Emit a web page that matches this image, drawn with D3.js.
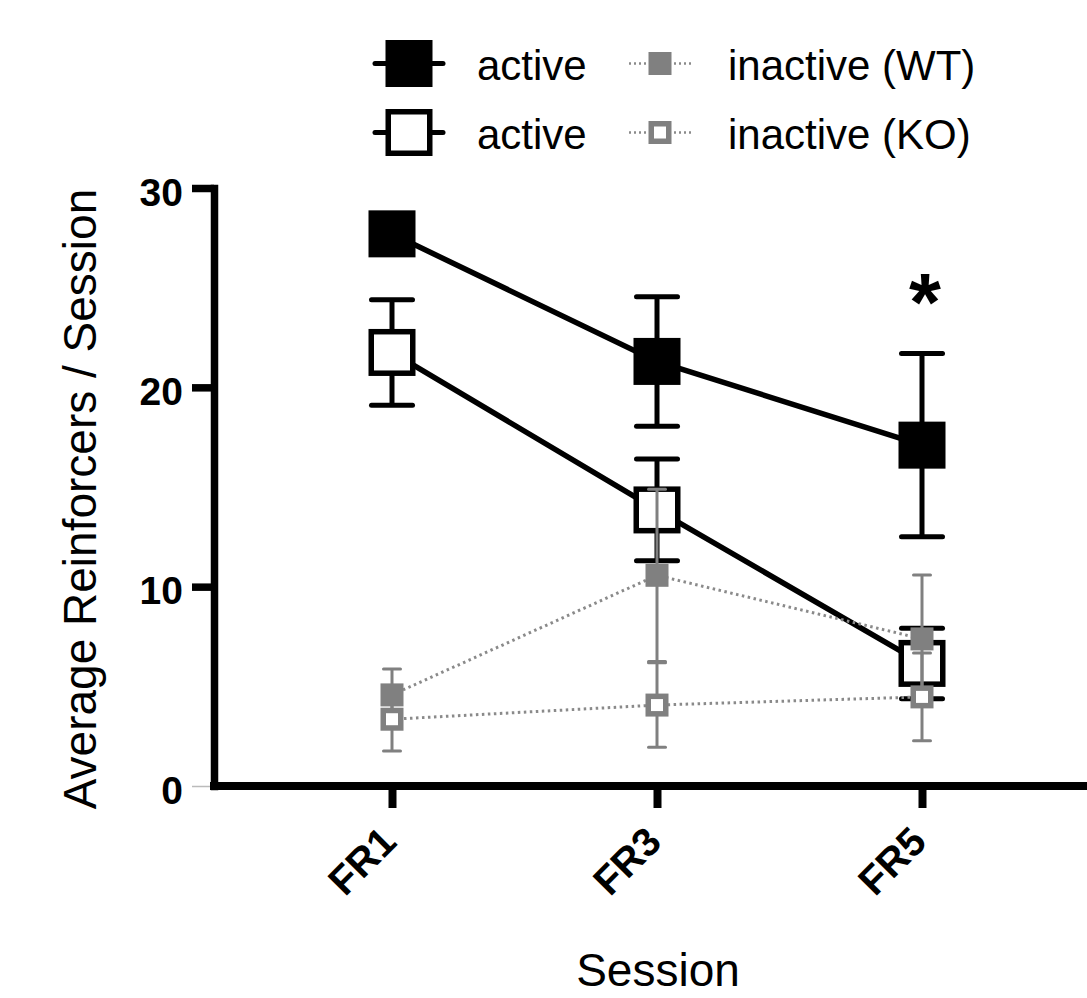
<!DOCTYPE html>
<html><head><meta charset="utf-8">
<script src="https://cdn.jsdelivr.net/npm/d3@7"></script>
<style>
html,body{margin:0;padding:0;background:#fff;}
svg text{font-family:"Liberation Sans",Arial,Helvetica,sans-serif;}
</style></head>
<body><svg id="c" width="1087" height="998"></svg>
<script>
const sessions = ["FR1", "FR3", "FR5"];
const activeWT = [27.7, 21.3, 17.1];
const activeWTSem = [1.0, 3.25, 4.6];
const activeKO = [21.75, 13.85, 6.15];
const activeKOSem = [2.65, 2.55, 1.77];
const inactiveWT = [4.57, 10.57, 7.38];
const inactiveWTSem = [1.3, 4.32, 3.2];
const inactiveKO = [3.35, 4.06, 4.47];
const inactiveKOSem = [1.6, 2.12, 2.2];
const yTicks = [0, 10, 20, 30];
const legendLabels = ["active", "active", "inactive (WT)", "inactive (KO)"];
const yTitle = "Average Reinforcers / Session";
const xTitle = "Session";
const sigMarks = ["", "", "*"];

const W = 1087, H = 998;
const axisX = 214, axisY = 786;
const svg = d3.select("#c");
const x = d3.scalePoint().domain(sessions).range([392, 922]);
const y = d3.scaleLinear().domain([0, 30]).range([786, 188]);
const GRAY = "#808080";

// Y axis
const ya = svg.append("g").attr("transform", `translate(${axisX},0)`)
  .call(d3.axisLeft(y).tickValues(yTicks).tickSize(22).tickSizeOuter(0).tickPadding(9));
ya.select(".domain").attr("stroke", "#000").attr("stroke-width", 7.5).attr("stroke-linecap", "square");
ya.selectAll(".tick line").attr("stroke", "#000").attr("stroke-width", 7.5);
ya.selectAll(".tick").filter(d => d === 0).select("line").attr("stroke", "#bbb").attr("stroke-width", 1.5);
ya.selectAll(".tick text").attr("font-size", 39).attr("font-weight", "bold").attr("fill", "#000")
  .attr("dy", "0.44em").attr("font-family", "Liberation Sans, Arial, sans-serif");

// X axis
const xa = svg.append("g").attr("transform", `translate(0,${axisY})`)
  .call(d3.axisBottom(x).tickSize(22).tickSizeOuter(0));
xa.select(".domain").remove();
xa.append("line").attr("x1", axisX - 4).attr("x2", W + 5).attr("y1", 0).attr("y2", 0)
  .attr("stroke", "#000").attr("stroke-width", 8);
xa.selectAll(".tick line").attr("stroke", "#000").attr("stroke-width", 8);
xa.selectAll(".tick text").attr("font-size", 40).attr("font-weight", "bold").attr("fill", "#000")
  .attr("font-family", "Liberation Sans, Arial, sans-serif")
  .attr("text-anchor", "end").attr("dy", 0).attr("y", 0)
  .attr("transform", "translate(6,58) rotate(-45)");

// Axis titles
svg.append("text").attr("transform", `translate(96,${(188 + 810) / 2}) rotate(-90)`)
  .attr("text-anchor", "middle").attr("font-size", 46).text(yTitle);
svg.append("text").attr("x", 658).attr("y", 986).attr("text-anchor", "middle")
  .attr("font-size", 46).text(xTitle);

const series = [
  {v: activeWT, s: activeWTSem, color: "#000", fill: "#000", size: 47, sw: 0, lw: 5.5, dash: null, capW: 46, capSw: 5, stemSw: 5},
  {v: activeKO, s: activeKOSem, color: "#000", fill: "#fff", size: 47, sw: 5.5, lw: 5.5, dash: null, capW: 46, capSw: 5, stemSw: 5},
  {v: inactiveWT, s: inactiveWTSem, color: GRAY, fill: GRAY, size: 23, sw: 0, lw: 3, dash: "2.5 3.5", capW: 20, capSw: 3, stemSw: 3},
  {v: inactiveKO, s: inactiveKOSem, color: GRAY, fill: "#fff", size: 23, sw: 5.5, lw: 3, dash: "2.5 3.5", capW: 20, capSw: 3, stemSw: 3}
];

const line = d3.line().x((d, i) => x(sessions[i])).y(d => y(d));

series.forEach(se => {
  const g = svg.append("g");
  g.append("path").attr("d", line(se.v)).attr("fill", "none")
    .attr("stroke", se.dash ? "#8a8a8a" : se.color).attr("stroke-width", se.lw)
    .attr("stroke-dasharray", se.dash);
  se.v.forEach((v, i) => {
    const cx = x(sessions[i]);
    const top = y(v + se.s[i]), bot = y(v - se.s[i]);
    g.append("line").attr("x1", cx).attr("x2", cx).attr("y1", top).attr("y2", bot)
      .attr("stroke", se.color).attr("stroke-width", se.stemSw);
    [top, bot].forEach(yy => g.append("line").attr("x1", cx - se.capW / 2 + se.capSw / 2).attr("x2", cx + se.capW / 2 - se.capSw / 2)
      .attr("y1", yy).attr("y2", yy).attr("stroke", se.color).attr("stroke-width", se.capSw)
      .attr("stroke-linecap", "round"));
  });
  se.v.forEach((v, i) => {
    const cx = x(sessions[i]), cy = y(v);
    const inner = se.size - se.sw;
    g.append("rect").attr("x", cx - inner / 2).attr("y", cy - inner / 2)
      .attr("width", inner).attr("height", inner)
      .attr("fill", se.fill).attr("stroke", se.sw ? se.color : "none").attr("stroke-width", se.sw);
  });
});

// significance
sigMarks.forEach((m, i) => {
  if (!m) return;
  svg.append("text").attr("x", x(sessions[i]) + 3).attr("y", 330).attr("text-anchor", "middle")
    .attr("font-size", 82).attr("font-weight", "bold").text(m);
});

// Legend
const legPos = [[409, 63.5, 477, 80], [409, 132.5, 477, 149], [660, 63.5, 728, 80], [660, 132.5, 728, 149]];
series.forEach((se, k) => {
  const [lx, ly, tx, ty] = legPos[k];
  const g = svg.append("g");
  const half = se.dash ? 31 : 34;
  g.append("line").attr("x1", lx - half).attr("x2", lx + half).attr("y1", ly).attr("y2", ly)
    .attr("stroke", se.dash ? "#8a8a8a" : se.color).attr("stroke-width", se.dash ? 2.5 : 5)
    .attr("stroke-dasharray", se.dash ? "2 3" : null).attr("stroke-linecap", se.dash ? "butt" : "round");
  const inner = se.size - se.sw;
  g.append("rect").attr("x", lx - inner / 2).attr("y", ly - inner / 2).attr("width", inner).attr("height", inner)
    .attr("fill", se.fill).attr("stroke", se.sw ? se.color : "none").attr("stroke-width", se.sw);
  g.append("text").attr("x", tx).attr("y", ty).attr("font-size", 42).text(legendLabels[k]);
});
</script></body></html>
